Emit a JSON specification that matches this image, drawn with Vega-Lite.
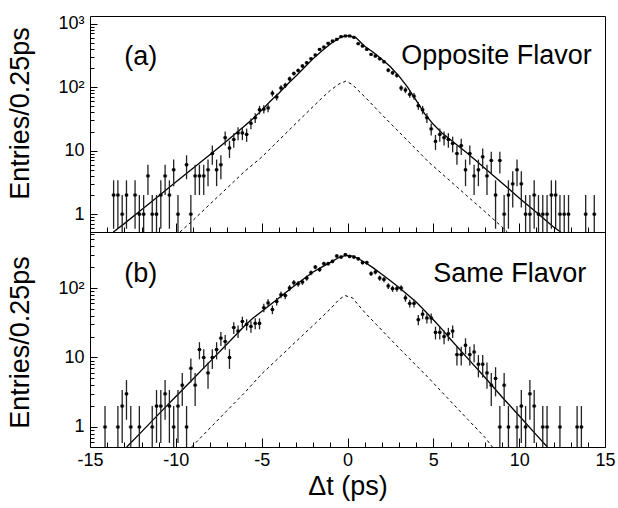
{
"$schema": "https://vega.github.io/schema/vega-lite/v6.json",
"padding": {"left": 6, "top": 14, "right": 4, "bottom": 2},
"spacing": 0,
"bounds": "flush",
"config": {
  "view": {"stroke": "#000", "strokeWidth": 1},
  "font": "Liberation Sans",
  "axis": {"labelFont": "Liberation Sans", "labelFontSize": 18, "labelColor": "#000", "titleFont": "Liberation Sans", "titleFontSize": 27, "titleFontWeight": "normal", "titleColor": "#000", "tickColor": "#000", "tickWidth": 1, "domain": false, "grid": false, "labelOverlap": false, "labelFlush": false}
},
"datasets": {
  "of_pts": [
    {"x":-13.625,"y":2,"lo":0.59,"hi":3.41},{"x":-13.375,"y":2,"lo":0.59,"hi":3.41},{"x":-13.125,"y":1,"lo":0,"hi":2},{"x":-12.875,"y":2,"lo":0.59,"hi":3.41},{"x":-12.375,"y":2,"lo":0.59,"hi":3.41},{"x":-12.125,"y":1,"lo":0,"hi":2},{"x":-11.875,"y":1,"lo":0,"hi":2},{"x":-11.625,"y":4,"lo":2,"hi":6},{"x":-11.375,"y":1,"lo":0,"hi":2},{"x":-11.125,"y":1,"lo":0,"hi":2},{"x":-10.875,"y":2,"lo":0.59,"hi":3.41},{"x":-10.625,"y":4,"lo":2,"hi":6},{"x":-10.375,"y":2,"lo":0.59,"hi":3.41},{"x":-10.125,"y":5,"lo":2.76,"hi":7.24},{"x":-9.875,"y":1,"lo":0,"hi":2},{"x":-9.375,"y":6,"lo":3.55,"hi":8.45},{"x":-9.125,"y":1,"lo":0,"hi":2},{"x":-8.875,"y":4,"lo":2,"hi":6},{"x":-8.625,"y":4,"lo":2,"hi":6},{"x":-8.375,"y":4,"lo":2,"hi":6},{"x":-8.125,"y":5,"lo":2.76,"hi":7.24},{"x":-7.875,"y":9,"lo":6,"hi":12},{"x":-7.625,"y":5,"lo":2.76,"hi":7.24},{"x":-7.375,"y":6,"lo":3.55,"hi":8.45},{"x":-7.125,"y":16,"lo":12,"hi":20},{"x":-6.875,"y":11,"lo":7.68,"hi":14.32},{"x":-6.625,"y":15,"lo":11.13,"hi":18.87},{"x":-6.375,"y":19,"lo":14.64,"hi":23.36},{"x":-6.125,"y":19,"lo":14.64,"hi":23.36},{"x":-5.875,"y":18,"lo":13.76,"hi":22.24},{"x":-5.625,"y":27,"lo":21.8,"hi":32.2},{"x":-5.375,"y":33,"lo":27.26,"hi":38.74},{"x":-5.125,"y":44,"lo":37.37,"hi":50.63},{"x":-4.875,"y":45,"lo":38.29,"hi":51.71},{"x":-4.625,"y":47,"lo":40.14,"hi":53.86},{"x":-4.375,"y":80,"lo":71.06,"hi":88.94},{"x":-4.125,"y":70,"lo":61.63,"hi":78.37},{"x":-3.875,"y":97,"lo":87.15,"hi":106.85},{"x":-3.625,"y":107,"lo":96.66,"hi":117.34},{"x":-3.375,"y":135,"lo":123.38,"hi":146.62},{"x":-3.125,"y":164,"lo":151.19,"hi":176.81},{"x":-2.875,"y":183,"lo":169.47,"hi":196.53},{"x":-2.625,"y":215,"lo":200.34,"hi":229.66},{"x":-2.375,"y":242,"lo":226.44,"hi":257.56},{"x":-2.125,"y":280,"lo":263.27,"hi":296.73},{"x":-1.875,"y":320,"lo":302.11,"hi":337.89},{"x":-1.625,"y":393,"lo":373.18,"hi":412.82},{"x":-1.375,"y":427,"lo":406.34,"hi":447.66},{"x":-1.125,"y":490,"lo":467.86,"hi":512.14},{"x":-0.875,"y":532,"lo":508.93,"hi":555.07},{"x":-0.625,"y":566,"lo":542.21,"hi":589.79},{"x":-0.375,"y":624,"lo":599.02,"hi":648.98},{"x":-0.125,"y":639,"lo":613.72,"hi":664.28},{"x":0.125,"y":639,"lo":613.72,"hi":664.28},{"x":0.375,"y":608,"lo":583.34,"hi":632.66},{"x":0.625,"y":483,"lo":461.02,"hi":504.98},{"x":0.875,"y":444,"lo":422.93,"hi":465.07},{"x":1.125,"y":393,"lo":373.18,"hi":412.82},{"x":1.375,"y":328,"lo":309.89,"hi":346.11},{"x":1.625,"y":309,"lo":291.42,"hi":326.58},{"x":1.875,"y":280,"lo":263.27,"hi":296.73},{"x":2.125,"y":251,"lo":235.16,"hi":266.84},{"x":2.375,"y":185,"lo":171.4,"hi":198.6},{"x":2.625,"y":168,"lo":155.04,"hi":180.96},{"x":2.875,"y":153,"lo":140.63,"hi":165.37},{"x":3.125,"y":97,"lo":87.15,"hi":106.85},{"x":3.375,"y":90,"lo":80.51,"hi":99.49},{"x":3.625,"y":77,"lo":68.23,"hi":85.77},{"x":3.875,"y":72,"lo":63.51,"hi":80.49},{"x":4.125,"y":51,"lo":43.86,"hi":58.14},{"x":4.375,"y":44,"lo":37.37,"hi":50.63},{"x":4.625,"y":33,"lo":27.26,"hi":38.74},{"x":4.875,"y":22,"lo":17.31,"hi":26.69},{"x":5.125,"y":14,"lo":10.26,"hi":17.74},{"x":5.375,"y":18,"lo":13.76,"hi":22.24},{"x":5.625,"y":16,"lo":12,"hi":20},{"x":5.875,"y":15,"lo":11.13,"hi":18.87},{"x":6.125,"y":13,"lo":9.39,"hi":16.61},{"x":6.375,"y":9,"lo":6,"hi":12},{"x":6.625,"y":12,"lo":8.54,"hi":15.46},{"x":6.875,"y":5,"lo":2.76,"hi":7.24},{"x":7.125,"y":9,"lo":6,"hi":12},{"x":7.375,"y":4,"lo":2,"hi":6},{"x":7.625,"y":5,"lo":2.76,"hi":7.24},{"x":7.875,"y":8,"lo":5.17,"hi":10.83},{"x":8.125,"y":4,"lo":2,"hi":6},{"x":8.375,"y":7,"lo":4.35,"hi":9.65},{"x":8.625,"y":2,"lo":0.59,"hi":3.41},{"x":8.875,"y":7,"lo":4.35,"hi":9.65},{"x":9.125,"y":1,"lo":0,"hi":2},{"x":9.375,"y":2,"lo":0.59,"hi":3.41},{"x":9.625,"y":3,"lo":1.27,"hi":4.73},{"x":9.875,"y":5,"lo":2.76,"hi":7.24},{"x":10.125,"y":3,"lo":1.27,"hi":4.73},{"x":10.375,"y":1,"lo":0,"hi":2},{"x":10.625,"y":1,"lo":0,"hi":2},{"x":10.875,"y":2,"lo":0.59,"hi":3.41},{"x":11.125,"y":1,"lo":0,"hi":2},{"x":11.375,"y":1,"lo":0,"hi":2},{"x":11.625,"y":1,"lo":0,"hi":2},{"x":11.875,"y":2,"lo":0.59,"hi":3.41},{"x":12.125,"y":2,"lo":0.59,"hi":3.41},{"x":12.375,"y":1,"lo":0,"hi":2},{"x":12.625,"y":1,"lo":0,"hi":2},{"x":12.875,"y":1,"lo":0,"hi":2},{"x":13.875,"y":1,"lo":0,"hi":2},{"x":14.375,"y":1,"lo":0,"hi":2}
  ],
  "sf_pts": [
    {"x":-14.125,"y":1,"lo":0,"hi":2},{"x":-13.375,"y":1,"lo":0,"hi":2},{"x":-13.125,"y":2,"lo":0.59,"hi":3.41},{"x":-12.875,"y":3,"lo":1.27,"hi":4.73},{"x":-12.625,"y":1,"lo":0,"hi":2},{"x":-12.125,"y":1,"lo":0,"hi":2},{"x":-11.375,"y":1,"lo":0,"hi":2},{"x":-11.125,"y":2,"lo":0.59,"hi":3.41},{"x":-10.875,"y":2,"lo":0.59,"hi":3.41},{"x":-10.625,"y":3,"lo":1.27,"hi":4.73},{"x":-10.375,"y":2,"lo":0.59,"hi":3.41},{"x":-10.125,"y":1,"lo":0,"hi":2},{"x":-9.875,"y":2,"lo":0.59,"hi":3.41},{"x":-9.625,"y":4,"lo":2,"hi":6},{"x":-9.375,"y":1,"lo":0,"hi":2},{"x":-9.125,"y":7,"lo":4.35,"hi":9.65},{"x":-8.875,"y":4,"lo":2,"hi":6},{"x":-8.625,"y":13,"lo":9.39,"hi":16.61},{"x":-8.375,"y":10,"lo":6.84,"hi":13.16},{"x":-8.125,"y":6,"lo":3.55,"hi":8.45},{"x":-7.875,"y":10,"lo":6.84,"hi":13.16},{"x":-7.625,"y":13,"lo":9.39,"hi":16.61},{"x":-7.375,"y":19,"lo":14.64,"hi":23.36},{"x":-7.125,"y":17,"lo":12.88,"hi":21.12},{"x":-6.875,"y":10,"lo":6.84,"hi":13.16},{"x":-6.625,"y":27,"lo":21.8,"hi":32.2},{"x":-6.375,"y":24,"lo":19.1,"hi":28.9},{"x":-6.125,"y":33,"lo":27.26,"hi":38.74},{"x":-5.875,"y":30,"lo":24.52,"hi":35.48},{"x":-5.625,"y":28,"lo":22.71,"hi":33.29},{"x":-5.375,"y":31,"lo":25.43,"hi":36.57},{"x":-5.125,"y":31,"lo":25.43,"hi":36.57},{"x":-4.875,"y":52,"lo":44.79,"hi":59.21},{"x":-4.625,"y":61,"lo":53.19,"hi":68.81},{"x":-4.375,"y":49,"lo":42,"hi":56},{"x":-4.125,"y":64,"lo":56,"hi":72},{"x":-3.875,"y":80,"lo":71.06,"hi":88.94},{"x":-3.625,"y":78,"lo":69.17,"hi":86.83},{"x":-3.375,"y":100,"lo":90,"hi":110},{"x":-3.125,"y":119,"lo":108.09,"hi":129.91},{"x":-2.875,"y":115,"lo":104.28,"hi":125.72},{"x":-2.625,"y":122,"lo":110.95,"hi":133.05},{"x":-2.375,"y":139,"lo":127.21,"hi":150.79},{"x":-2.125,"y":166,"lo":153.12,"hi":178.88},{"x":-1.875,"y":200,"lo":185.86,"hi":214.14},{"x":-1.625,"y":184,"lo":170.44,"hi":197.56},{"x":-1.375,"y":224,"lo":209.03,"hi":238.97},{"x":-1.125,"y":224,"lo":209.03,"hi":238.97},{"x":-0.875,"y":242,"lo":226.44,"hi":257.56},{"x":-0.625,"y":289,"lo":272,"hi":306},{"x":-0.375,"y":279,"lo":262.3,"hi":295.7},{"x":-0.125,"y":302,"lo":284.62,"hi":319.38},{"x":0.125,"y":285,"lo":268.12,"hi":301.88},{"x":0.375,"y":279,"lo":262.3,"hi":295.7},{"x":0.625,"y":264,"lo":247.75,"hi":280.25},{"x":0.875,"y":232,"lo":216.77,"hi":247.23},{"x":1.125,"y":232,"lo":216.77,"hi":247.23},{"x":1.375,"y":161,"lo":148.31,"hi":173.69},{"x":1.625,"y":170,"lo":156.96,"hi":183.04},{"x":1.875,"y":139,"lo":127.21,"hi":150.79},{"x":2.125,"y":133,"lo":121.47,"hi":144.53},{"x":2.375,"y":107,"lo":96.66,"hi":117.34},{"x":2.625,"y":98,"lo":88.1,"hi":107.9},{"x":2.875,"y":98,"lo":88.1,"hi":107.9},{"x":3.125,"y":100,"lo":90,"hi":110},{"x":3.375,"y":72,"lo":63.51,"hi":80.49},{"x":3.625,"y":60,"lo":52.25,"hi":67.75},{"x":3.875,"y":60,"lo":52.25,"hi":67.75},{"x":4.125,"y":35,"lo":29.08,"hi":40.92},{"x":4.375,"y":42,"lo":35.52,"hi":48.48},{"x":4.625,"y":37,"lo":30.92,"hi":43.08},{"x":4.875,"y":37,"lo":30.92,"hi":43.08},{"x":5.125,"y":23,"lo":18.2,"hi":27.8},{"x":5.375,"y":23,"lo":18.2,"hi":27.8},{"x":5.625,"y":20,"lo":15.53,"hi":24.47},{"x":5.875,"y":22,"lo":17.31,"hi":26.69},{"x":6.125,"y":24,"lo":19.1,"hi":28.9},{"x":6.375,"y":11,"lo":7.68,"hi":14.32},{"x":6.625,"y":11,"lo":7.68,"hi":14.32},{"x":6.875,"y":15,"lo":11.13,"hi":18.87},{"x":7.125,"y":11,"lo":7.68,"hi":14.32},{"x":7.375,"y":12,"lo":8.54,"hi":15.46},{"x":7.625,"y":8,"lo":5.17,"hi":10.83},{"x":7.875,"y":8,"lo":5.17,"hi":10.83},{"x":8.125,"y":6,"lo":3.55,"hi":8.45},{"x":8.375,"y":4,"lo":2,"hi":6},{"x":8.625,"y":5,"lo":2.76,"hi":7.24},{"x":8.875,"y":1,"lo":0,"hi":2},{"x":9.125,"y":4,"lo":2,"hi":6},{"x":9.375,"y":1,"lo":0,"hi":2},{"x":9.875,"y":1,"lo":0,"hi":2},{"x":10.125,"y":2,"lo":0.59,"hi":3.41},{"x":10.375,"y":1,"lo":0,"hi":2},{"x":10.625,"y":3,"lo":1.27,"hi":4.73},{"x":10.875,"y":2,"lo":0.59,"hi":3.41},{"x":11.375,"y":1,"lo":0,"hi":2},{"x":11.625,"y":1,"lo":0,"hi":2},{"x":12.375,"y":1,"lo":0,"hi":2},{"x":13.375,"y":1,"lo":0,"hi":2},{"x":13.625,"y":1,"lo":0,"hi":2}
  ],
  "of_fit": [
    {"x":-13.64,"y":0.514},{"x":-13,"y":0.71},{"x":-12,"y":1.17},{"x":-11,"y":1.94},{"x":-10,"y":3.2},{"x":-9,"y":5.3},{"x":-8,"y":8.7},{"x":-7,"y":14.4},{"x":-6,"y":24.5},{"x":-5.5,"y":32},{"x":-5,"y":43},{"x":-4.5,"y":60},{"x":-4,"y":80},{"x":-3.5,"y":111},{"x":-3,"y":150},{"x":-2.5,"y":205},{"x":-2,"y":281},{"x":-1.5,"y":372},{"x":-1,"y":479},{"x":-0.5,"y":589},{"x":-0.1,"y":645},{"x":0.2,"y":632},{"x":0.5,"y":596},{"x":1,"y":440},{"x":1.5,"y":355},{"x":2,"y":275},{"x":2.5,"y":209},{"x":3,"y":149},{"x":3.5,"y":100},{"x":4,"y":62},{"x":4.5,"y":38},{"x":5,"y":26},{"x":5.5,"y":19},{"x":6,"y":14.8},{"x":7,"y":9},{"x":8,"y":5.3},{"x":9,"y":3.1},{"x":10,"y":1.8},{"x":11,"y":1.07},{"x":12,"y":0.63},{"x":12.42,"y":0.51}
  ],
  "of_bkg": [
    {"x":-9.76,"y":0.51},{"x":-9,"y":0.8},{"x":-8,"y":1.45},{"x":-7,"y":2.6},{"x":-6,"y":4.7},{"x":-5,"y":7.9},{"x":-4,"y":14.6},{"x":-3,"y":26.9},{"x":-2,"y":49.6},{"x":-1.5,"y":67},{"x":-1,"y":89},{"x":-0.5,"y":112},{"x":-0.1,"y":124},{"x":0.28,"y":110},{"x":0.6,"y":90},{"x":1.06,"y":68},{"x":2,"y":37},{"x":3,"y":19.7},{"x":4,"y":10.5},{"x":4.75,"y":6.5},{"x":5,"y":5.7},{"x":6,"y":3.3},{"x":7,"y":1.9},{"x":8,"y":1.1},{"x":9,"y":0.63},{"x":9.31,"y":0.52}
  ],
  "sf_fit": [
    {"x":-12.86,"y":0.515},{"x":-12,"y":0.85},{"x":-11,"y":1.53},{"x":-10,"y":2.74},{"x":-9,"y":4.9},{"x":-8,"y":8.8},{"x":-7,"y":15.8},{"x":-6,"y":28.4},{"x":-5.5,"y":37},{"x":-5,"y":46},{"x":-4,"y":72},{"x":-3,"y":112},{"x":-2,"y":170},{"x":-1.5,"y":200},{"x":-1,"y":234},{"x":-0.5,"y":275},{"x":-0.1,"y":295},{"x":0.3,"y":288},{"x":0.5,"y":275},{"x":1,"y":235},{"x":1.5,"y":195},{"x":2,"y":158},{"x":2.5,"y":127},{"x":3,"y":102},{"x":3.5,"y":80},{"x":4,"y":63},{"x":4.5,"y":47},{"x":5,"y":35},{"x":5.5,"y":25.6},{"x":6,"y":18.3},{"x":7,"y":9.7},{"x":8,"y":5.2},{"x":9,"y":2.7},{"x":10,"y":1.45},{"x":11,"y":0.77},{"x":11.64,"y":0.515}
  ],
  "sf_bkg": [
    {"x":-9.08,"y":0.515},{"x":-8,"y":0.97},{"x":-7,"y":1.74},{"x":-6,"y":3.1},{"x":-5,"y":5.8},{"x":-4,"y":9.9},{"x":-3,"y":17},{"x":-2,"y":29},{"x":-1.5,"y":38},{"x":-1,"y":50},{"x":-0.5,"y":68},{"x":-0.15,"y":78},{"x":0.3,"y":72},{"x":0.6,"y":58},{"x":1.06,"y":43},{"x":2,"y":24.7},{"x":3,"y":13.7},{"x":4,"y":7.7},{"x":4.75,"y":5},{"x":5,"y":4.3},{"x":6,"y":2.35},{"x":7,"y":1.29},{"x":8,"y":0.71},{"x":8.44,"y":0.515}
  ]
},
"vconcat": [
  {
    "width": 515, "height": 216,
    "encoding": {
      "x": {"field": "x", "type": "quantitative", "scale": {"domain": [-15, 15], "nice": false, "zero": false},
            "axis": {"values": [-15,-14,-13,-12,-11,-10,-9,-8,-7,-6,-5,-4,-3,-2,-1,0,1,2,3,4,5,6,7,8,9,10,11,12,13,14,15], "labels": false, "title": null, "labelPadding": 0,
                     "tickSize": {"condition": {"test": "datum.value % 5 === 0", "value": -9}, "value": -5}}},
      "y": {"field": "y", "type": "quantitative", "scale": {"type": "log", "domain": [0.524, 1318], "nice": false, "clamp": true},
            "axis": {"values": [0.6,0.7,0.8,0.9,1,2,3,4,5,6,7,8,9,10,20,30,40,50,60,70,80,90,100,200,300,400,500,600,700,800,900,1000],
                     "labelExpr": "datum.value === 1000 ? '10³' : datum.value === 100 ? '10²' : datum.value === 10 ? '10' : datum.value === 1 ? '1' : ''",
                     "tickSize": {"condition": {"test": "datum.value === 1 || datum.value === 10 || datum.value === 100 || datum.value === 1000", "value": -7}, "value": -4},
                     "labelPadding": 13, "title": "Entries/0.25ps", "titleAngle": 270, "titleX": -61.5, "titleY": 97, "titleAlign": "center", "titleBaseline": "alphabetic"}}
    },
    "layer": [
      {"data": {"name": "of_bkg"}, "mark": {"type": "line", "color": "#000", "strokeWidth": 1, "strokeDash": [3, 3], "clip": true}},
      {"data": {"name": "of_fit"}, "mark": {"type": "line", "color": "#000", "strokeWidth": 1.3, "clip": true}},
      {"data": {"name": "of_pts"}, "mark": {"type": "rule", "color": "#222", "strokeWidth": 1.3, "clip": true},
       "encoding": {"y": {"field": "lo", "type": "quantitative", "scale": {"type": "log", "domain": [0.524, 1318], "nice": false, "clamp": true}}, "y2": {"field": "hi"}}},
      {"data": {"name": "of_pts"}, "mark": {"type": "tick", "orient": "horizontal", "size": 4.3, "thickness": 1, "color": "#000"}},
      {"data": {"name": "of_pts"}, "mark": {"type": "square", "size": 9, "color": "#000", "opacity": 1, "filled": true}},
      {"data": {"values": [{"x": -12.04, "y": 220, "label": "(a)"}, {"x": 8.68, "y": 235, "label": "Opposite Flavor"}]},
       "mark": {"type": "text", "fontSize": 27, "align": "center", "baseline": "alphabetic", "font": "Liberation Sans", "color": "#000"},
       "encoding": {"text": {"field": "label"}}}
    ]
  },
  {
    "width": 515, "height": 215,
    "encoding": {
      "x": {"field": "x", "type": "quantitative", "scale": {"domain": [-15, 15], "nice": false, "zero": false},
            "axis": {"values": [-15,-14,-13,-12,-11,-10,-9,-8,-7,-6,-5,-4,-3,-2,-1,0,1,2,3,4,5,6,7,8,9,10,11,12,13,14,15],
                     "labelExpr": "datum.value % 5 === 0 ? replace(datum.label, '−', '-') : ''",
                     "title": "Δt (ps)", "labelPadding": 13, "titlePadding": 0,
                     "tickSize": {"condition": {"test": "datum.value % 5 === 0", "value": -9}, "value": -5}}},
      "y": {"field": "y", "type": "quantitative", "scale": {"type": "log", "domain": [0.515, 640], "nice": false, "clamp": true},
            "axis": {"values": [0.6,0.7,0.8,0.9,1,2,3,4,5,6,7,8,9,10,20,30,40,50,60,70,80,90,100,200,300,400,500,600],
                     "labelExpr": "datum.value === 100 ? '10²' : datum.value === 10 ? '10' : datum.value === 1 ? '1' : ''",
                     "tickSize": {"condition": {"test": "datum.value === 1 || datum.value === 10 || datum.value === 100", "value": -7}, "value": -4},
                     "labelPadding": 13, "title": "Entries/0.25ps", "titleAngle": 270, "titleX": -61.5, "titleY": 110, "titleAlign": "center", "titleBaseline": "alphabetic"}}
    },
    "layer": [
      {"data": {"name": "sf_bkg"}, "mark": {"type": "line", "color": "#000", "strokeWidth": 1, "strokeDash": [3, 3], "clip": true}},
      {"data": {"name": "sf_fit"}, "mark": {"type": "line", "color": "#000", "strokeWidth": 1.3, "clip": true}},
      {"data": {"name": "sf_pts"}, "mark": {"type": "rule", "color": "#222", "strokeWidth": 1.3, "clip": true},
       "encoding": {"y": {"field": "lo", "type": "quantitative", "scale": {"type": "log", "domain": [0.515, 640], "nice": false, "clamp": true}}, "y2": {"field": "hi"}}},
      {"data": {"name": "sf_pts"}, "mark": {"type": "tick", "orient": "horizontal", "size": 4.3, "thickness": 1, "color": "#000"}},
      {"data": {"name": "sf_pts"}, "mark": {"type": "square", "size": 9, "color": "#000", "opacity": 1, "filled": true}},
      {"data": {"values": [{"x": -12.04, "y": 124, "label": "(b)"}, {"x": 9.455, "y": 122, "label": "Same Flavor"}]},
       "mark": {"type": "text", "fontSize": 27, "align": "center", "baseline": "alphabetic", "font": "Liberation Sans", "color": "#000"},
       "encoding": {"text": {"field": "label"}}}
    ]
  }
]
}
